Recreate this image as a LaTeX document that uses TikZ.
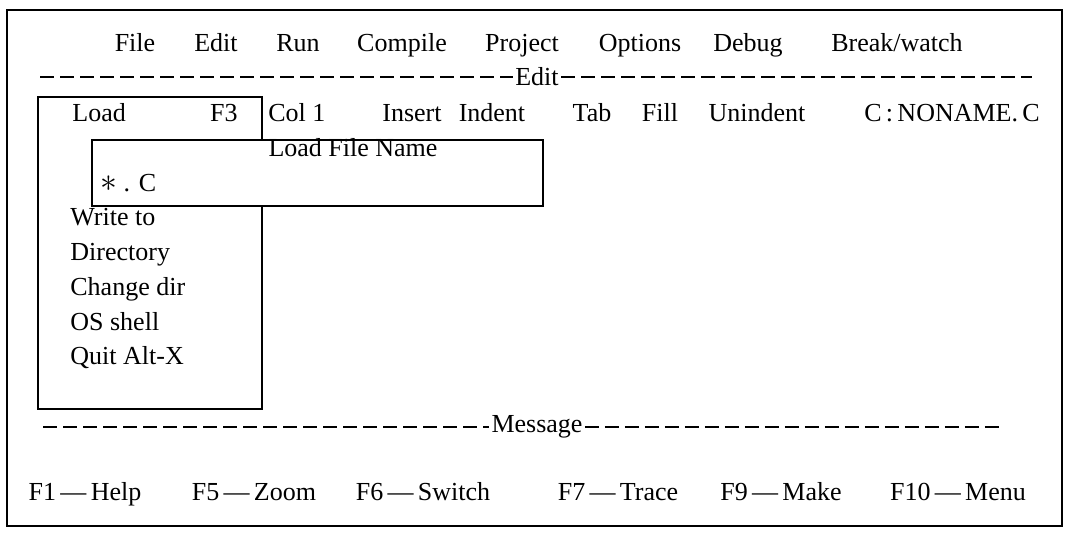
\documentclass[tikz,border=0pt]{standalone}
\usepackage{fontspec}
\setmainfont{Liberation Serif}
\begin{document}
\begin{tikzpicture}[x=0.5pt, y=-0.5pt,
	txt/.style={inner sep=0pt, anchor=base, font=\fontsize{13pt}{15pt}\selectfont},
	ltxt/.style={txt, anchor=base west},
	dashline/.style={dash pattern=on 7pt off 3pt, line width=0.6pt},
	frame/.style={draw, line width=0.7pt, fill=white}]
	\useasboundingbox (0,0) rectangle (1072,533);
	\draw[line width=0.7pt] (7,10) rectangle (1062,526);

	\node[txt](file) at (135,52){File};
	\node[txt](edit) at (216,52){Edit};
	\node[txt](run) at (298,52){Run};
	\node[txt](compile) at (402,52){Compile};
	\node[txt](project) at (522,52){Project};
	\node[txt](options) at (640,52){Options};
	\node[txt](debug) at (748,52){Debug};
	\node[txt](break) at (897,52){Break/watch};

	\coordinate (editL) at (40,77);
	\coordinate (editR) at (1032,77);
	\node[txt, anchor=center, inner xsep=1pt](editbar) at (537,77){Edit};
	\draw[dashline] (editL) -- (editbar.west);
	\draw[dashline] (editbar.east) -- (editR);

	\node[ltxt](col) at (268,122){Col 1};
	\node[txt](insert) at (412,122){Insert};
	\node[txt](indent) at (492,122){Indent};
	\node[txt](tab) at (592,122){Tab};
	\node[txt](fill) at (660,122){Fill};
	\node[txt](unindent) at (757,122){Unindent};
	\node[txt](noname) at (952,122){C\,:\,NONAME.\,C};

	% file menu
	\draw[frame] (38,97) rectangle (262,409);
	\node[ltxt](load) at (72,122){Load};
	\node[txt, anchor=base east](fthree) at (238,122){F3};
	\node[ltxt](write) at (70,226){Write to};
	\node[ltxt](dir) at (70,261){Directory};
	\node[ltxt](chdir) at (70,296){Change dir};
	\node[ltxt](shell) at (70,331){OS shell};
	\node[ltxt](quit) at (70,365){Quit Alt-X};

	% load file name box
	\draw[frame] (92,140) rectangle (543,206);
	\node[txt](loadname) at (353,157){Load File Name};
	\node[ltxt](mask) at (100,192){\scalebox{1.4}{$\ast$} . C};

	\coordinate (msgL) at (43,427);
	\coordinate (msgR) at (1000,427);
	\node[txt, anchor=center, inner xsep=1pt](msgbar) at (537,427){Message};
	\draw[dashline] (msgL) -- (msgbar.west);
	\draw[dashline] (msgbar.east) -- (msgR);

	\node[txt](help) at (85,501){F1\,---\,Help};
	\node[txt](zoom) at (254,501){F5\,---\,Zoom};
	\node[txt](switch) at (423,501){F6\,---\,Switch};
	\node[txt](trace) at (618,501){F7\,---\,Trace};
	\node[txt](make) at (781,501){F9\,---\,Make};
	\node[txt](menu) at (958,501){F10\,---\,Menu};
\end{tikzpicture}
\end{document}
